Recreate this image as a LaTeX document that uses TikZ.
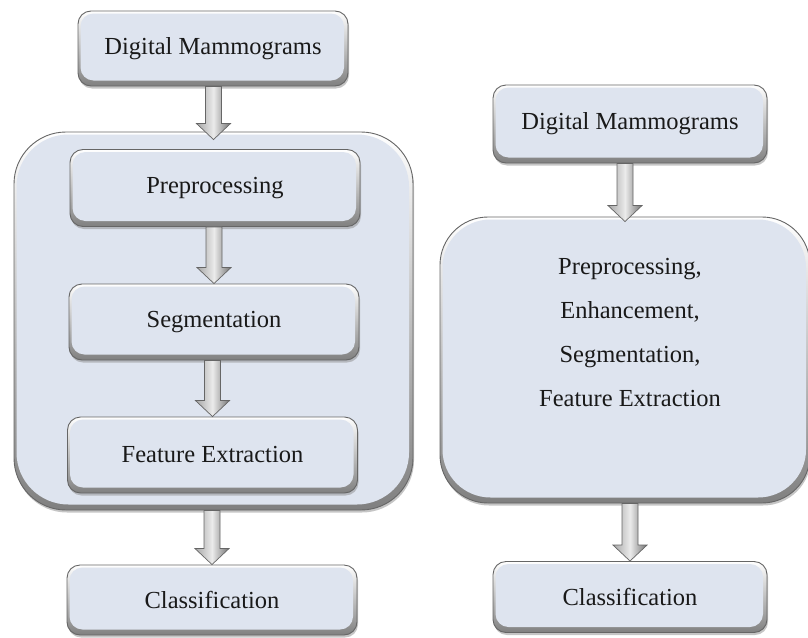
\documentclass[tikz,border=0pt]{standalone}
\usepackage{fontspec}
\setmainfont{Liberation Serif}
\usetikzlibrary{calc,shadows}
\definecolor{facecol}{RGB}{222,228,239}
\definecolor{txtcol}{RGB}{25,25,25}
\tikzset{
  bevel/.style={rectangle, rounded corners=#1, draw=black!60, line width=0.9pt,
    top color=white, bottom color=black!50,
    drop shadow={shadow xshift=1pt, shadow yshift=-2.5pt, fill=black!45, opacity=0.5},
    path picture={\fill[facecol, rounded corners=#1] ([shift={(2.5pt,-2.5pt)}]path picture bounding box.north west) rectangle ([shift={(-4pt,5.5pt)}]path picture bounding box.south east);},
    inner sep=0pt, font=\fontsize{24.5pt}{44pt}\selectfont, text=txtcol},
  bevel/.default=13pt,
  blk/.style={left color=black!35, right color=black!55, middle color=white!92!black, draw=black!60, line width=0.7pt},
  txt/.style={font=\fontsize{24.5pt}{44pt}\selectfont, text=txtcol, align=center}
}
\newcommand\blkarrow[3]{%
  \path[blk] let \p1=(#1.south), \p2=($(#2.north)+(0,-#3)$) in
    (\x2-8pt,\y1) -- (\x2+8pt,\y1) -- (\x2+8pt,\y2+16pt) -- (\x2+17pt,\y2+16pt) -- (\x2,\y2)
    -- (\x2-17pt,\y2+16pt) -- (\x2-8pt,\y2+16pt) -- cycle;}
\begin{document}
\begin{tikzpicture}[x=1pt,y=-1pt]
\useasboundingbox (0,0) rectangle (808,637);
% left pipeline
\node[bevel, minimum width=270pt, minimum height=75pt] (ldm) at (213,48.5) {Digital Mammograms};
\node[bevel=52pt, minimum width=399pt, minimum height=378pt] (lbox) at (213.5,321) {};
\node[bevel, minimum width=290pt, minimum height=77pt] (lpre) at (215,188) {Preprocessing};
\node[bevel, minimum width=290pt, minimum height=76pt] (lseg) at (214,322) {Segmentation};
\node[bevel, minimum width=290pt, minimum height=76pt] (lfeat) at (212.5,455) {Feature Extraction};
\node[bevel, minimum width=290pt, minimum height=70pt] (lcls) at (212,600) {Classification};
% right pipeline
\node[bevel, minimum width=274pt, minimum height=78pt] (rdm) at (630,124) {Digital Mammograms};
\node[bevel=48pt, minimum width=370pt, minimum height=286pt] (rbox) at (625,360) {};
\node[txt] (rtxt) at (630,333) {Preprocessing,\\Enhancement,\\Segmentation,\\Feature Extraction};
\node[bevel, minimum width=274pt, minimum height=71pt] (rcls) at (630,597) {Classification};
% arrows
\blkarrow{ldm}{lbox}{8pt}
\blkarrow{lpre}{lseg}{0pt}
\blkarrow{lseg}{lfeat}{0pt}
\blkarrow{lbox}{lcls}{0pt}
\blkarrow{rdm}{rbox}{5pt}
\blkarrow{rbox}{rcls}{0pt}
\end{tikzpicture}
\end{document}
